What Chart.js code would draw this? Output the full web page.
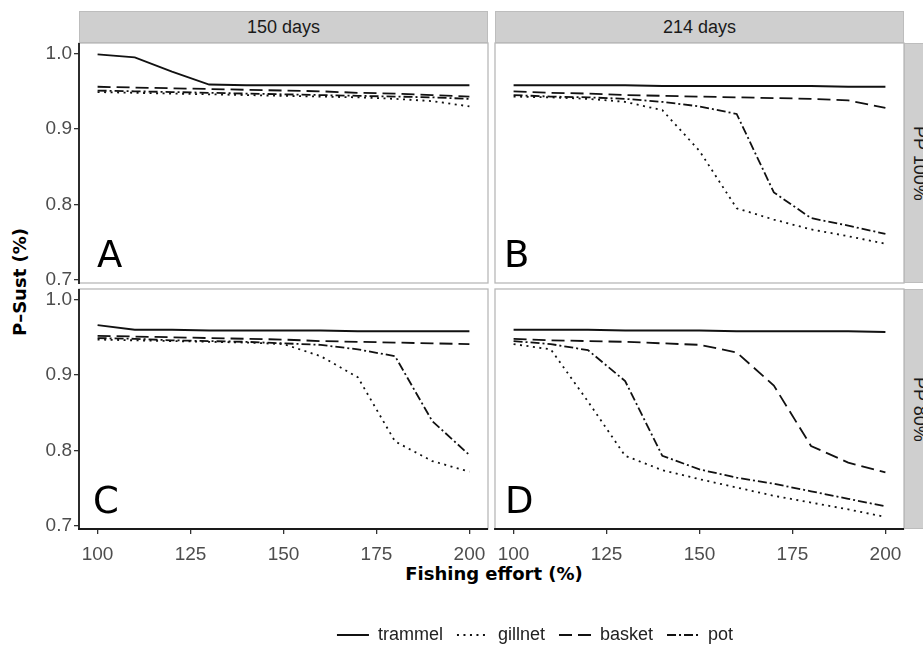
<!DOCTYPE html>
<html><head><meta charset="utf-8">
<script src="https://cdn.jsdelivr.net/npm/chart.js@4.4.1/dist/chart.umd.min.js"></script>
<style>
html,body{margin:0;padding:0;background:#fff;width:923px;height:645px;overflow:hidden;position:relative;}
canvas{position:absolute;}
.strip{position:absolute;background:#cfcfcf;box-sizing:border-box;border:1px solid #bdbdbd;color:#1a1a1a;font:18px "Liberation Sans",Arial,sans-serif;white-space:nowrap;}
.stripTop{height:32px;line-height:30px;text-align:center;}
.stripRight{width:32px;height:240px;writing-mode:vertical-rl;text-align:center;line-height:30px;}
.title{position:absolute;font:bold 18px "DejaVu Sans",sans-serif;color:#000;white-space:nowrap;text-align:center;line-height:22px;height:22px;}
</style></head><body>
<div class="strip stripTop" style="left:79px;top:11px;width:409px;">150 days</div>
<div class="strip stripTop" style="left:495px;top:11px;width:409px;">214 days</div>
<div class="strip stripRight" style="left:904px;top:43px;">PP 100%</div>
<div class="strip stripRight" style="left:904px;top:289px;">PP 80%</div>
<div class="title" style="left:-79.6px;top:271px;width:200px;transform:rotate(-90deg);">P–Sust (%)</div>
<div class="title" style="left:344px;top:562.8px;width:300px;">Fishing effort (%)</div>
<script>
// ---- data ----
const effort = [100, 110, 120, 130, 140, 150, 160, 170, 180, 190, 200];
const xTicks = [100, 125, 150, 175, 200];
const yTicks = [0.7, 0.8, 0.9, 1.0];
const gears = ['trammel', 'gillnet', 'basket', 'pot'];

// A: 150 days, PP 100%
const trammelA = [0.999, 0.995, 0.976, 0.959, 0.958, 0.958, 0.958, 0.958, 0.958, 0.958, 0.958];
const gillnetA = [0.949, 0.948, 0.947, 0.946, 0.945, 0.944, 0.943, 0.942, 0.940, 0.937, 0.930];
const basketA  = [0.956, 0.955, 0.954, 0.953, 0.952, 0.951, 0.950, 0.948, 0.947, 0.945, 0.943];
const potA     = [0.951, 0.950, 0.949, 0.948, 0.947, 0.946, 0.945, 0.944, 0.943, 0.942, 0.940];
// B: 214 days, PP 100%
const trammelB = [0.958, 0.958, 0.958, 0.958, 0.957, 0.957, 0.957, 0.957, 0.957, 0.956, 0.956];
const gillnetB = [0.943, 0.942, 0.940, 0.936, 0.925, 0.871, 0.795, 0.780, 0.767, 0.758, 0.748];
const basketB  = [0.950, 0.948, 0.947, 0.945, 0.944, 0.943, 0.942, 0.941, 0.940, 0.938, 0.928];
const potB     = [0.945, 0.943, 0.942, 0.940, 0.936, 0.930, 0.920, 0.816, 0.782, 0.772, 0.761];
// C: 150 days, PP 80%
const trammelC = [0.966, 0.960, 0.960, 0.959, 0.959, 0.959, 0.959, 0.958, 0.958, 0.958, 0.958];
const gillnetC = [0.947, 0.946, 0.945, 0.944, 0.943, 0.941, 0.925, 0.897, 0.812, 0.786, 0.772];
const basketC  = [0.952, 0.951, 0.950, 0.949, 0.948, 0.947, 0.945, 0.944, 0.943, 0.942, 0.941];
const potC     = [0.949, 0.948, 0.946, 0.945, 0.944, 0.942, 0.940, 0.934, 0.925, 0.839, 0.794];
// D: 214 days, PP 80%
const trammelD = [0.960, 0.960, 0.960, 0.959, 0.959, 0.959, 0.958, 0.958, 0.958, 0.958, 0.957];
const gillnetD = [0.941, 0.934, 0.865, 0.793, 0.774, 0.762, 0.751, 0.740, 0.731, 0.722, 0.712];
const basketD  = [0.948, 0.946, 0.945, 0.944, 0.942, 0.940, 0.930, 0.886, 0.806, 0.784, 0.771];
const potD     = [0.945, 0.941, 0.933, 0.892, 0.793, 0.775, 0.764, 0.756, 0.746, 0.736, 0.726];

// ---- styles ----
const LINE = '#111111';
const LW = 1.8;
const dashes = { trammel: [], gillnet: [2, 4.5], basket: [13, 6], pot: [9, 3, 2, 3] };

function ds(label, values) {
  return {
    label: label,
    data: effort.map((x, i) => ({ x: x, y: values[i] })),
    borderColor: LINE, backgroundColor: LINE, borderWidth: LW,
    borderDash: dashes[label], pointRadius: 0, fill: false, tension: 0
  };
}

const framePlugin = {
  id: 'frame',
  afterDatasetsDraw(chart, args, o) {
    const { left, top, right, bottom } = chart.chartArea;
    const ctx = chart.ctx;
    ctx.save();
    ctx.setLineDash([]);
    ctx.strokeStyle = '#b8b8b8'; ctx.lineWidth = 1.3;
    ctx.strokeRect(left, top, right - left, bottom - top);
    ctx.strokeStyle = '#1a1a1a'; ctx.lineWidth = 1.8;
    if (o.axisLeft) { ctx.beginPath(); ctx.moveTo(left, top); ctx.lineTo(left, bottom + 0.9); ctx.stroke(); }
    if (o.axisBottom) { ctx.beginPath(); ctx.moveTo(left - 0.9, bottom); ctx.lineTo(right, bottom); ctx.stroke(); }
    if (o.letter) {
      ctx.fillStyle = '#000'; ctx.font = '37px "DejaVu Sans"'; ctx.textBaseline = 'alphabetic'; ctx.textAlign = 'left';
      ctx.fillText(o.letter, left + o.dx, bottom - 16);
    }
    ctx.restore();
  }
};

const tickFont = { family: 'Liberation Sans', size: 19 };

function makeChart(box, pad, datasets, o) {
  const cv = document.createElement('canvas');
  cv.width = box.w; cv.height = box.h;
  cv.style.left = box.x + 'px'; cv.style.top = box.y + 'px';
  document.body.appendChild(cv);
  return new Chart(cv, {
    type: 'line',
    data: { datasets: datasets },
    options: {
      responsive: false, animation: false, devicePixelRatio: 1,
      layout: { padding: pad },
      plugins: { legend: { display: false }, tooltip: { enabled: false }, frame: o },
      scales: {
        x: {
          type: 'linear', min: 95, max: 205, display: o.showX,
          afterBuildTicks: s => { s.ticks = xTicks.map(v => ({ value: v })); },
          afterFit: s => { s.height = o.showX ? 40 : 0; },
          grid: { drawOnChartArea: false, tickLength: 5, color: '#333', lineWidth: 1.3 },
          border: { display: false },
          ticks: { padding: 9, color: '#4d4d4d', font: tickFont, maxRotation: 0, autoSkip: false, callback: v => String(v) }
        },
        y: {
          type: 'linear', min: 0.696, max: 1.014, display: o.showY,
          afterBuildTicks: s => { s.ticks = yTicks.map(v => ({ value: v })); },
          afterFit: s => { s.width = o.showY ? 79 : 0; },
          grid: { drawOnChartArea: false, tickLength: 5, color: '#333', lineWidth: 1.3 },
          border: { display: false },
          ticks: { padding: 2, color: '#4d4d4d', font: tickFont, autoSkip: false, callback: v => Number(v).toFixed(1) }
        }
      }
    },
    plugins: [framePlugin]
  });
}

makeChart({ x: 0, y: 23, w: 508, h: 280 }, { top: 20, bottom: 20, left: 0, right: 20 },
  [ds('trammel', trammelA), ds('gillnet', gillnetA), ds('basket', basketA), ds('pot', potA)],
  { showX: false, showY: true, axisLeft: true, axisBottom: false, letter: 'A', dx: 18 });
makeChart({ x: 475, y: 23, w: 449, h: 280 }, { top: 20, bottom: 20, left: 20, right: 20 },
  [ds('trammel', trammelB), ds('gillnet', gillnetB), ds('basket', basketB), ds('pot', potB)],
  { showX: false, showY: false, axisLeft: false, axisBottom: false, letter: 'B', dx: 9 });
makeChart({ x: 0, y: 269, w: 508, h: 300 }, { top: 20, bottom: 0, left: 0, right: 20 },
  [ds('trammel', trammelC), ds('gillnet', gillnetC), ds('basket', basketC), ds('pot', potC)],
  { showX: true, showY: true, axisLeft: true, axisBottom: true, letter: 'C', dx: 14 });
makeChart({ x: 475, y: 269, w: 449, h: 300 }, { top: 20, bottom: 0, left: 20, right: 20 },
  [ds('trammel', trammelD), ds('gillnet', gillnetD), ds('basket', basketD), ds('pot', potD)],
  { showX: true, showY: false, axisLeft: false, axisBottom: true, letter: 'D', dx: 10 });

// legend
(function () {
  const cv = document.createElement('canvas');
  cv.width = 870; cv.height = 120;
  cv.style.left = '100px'; cv.style.top = '612px';
  document.body.appendChild(cv);
  new Chart(cv, {
    type: 'line',
    data: { datasets: gears.map(g => ({ label: g, data: [], borderColor: LINE, backgroundColor: LINE, borderWidth: LW, borderDash: dashes[g] })) },
    options: {
      responsive: false, animation: false, devicePixelRatio: 1,
      layout: { padding: 0 },
      scales: { x: { display: false }, y: { display: false } },
      plugins: {
        tooltip: { enabled: false },
        legend: {
          display: true, position: 'top', align: 'center',
          labels: {
            usePointStyle: true, pointStyle: 'line', pointStyleWidth: 32, boxHeight: 18, padding: 14,
            color: '#222', font: { family: 'Liberation Sans', size: 18 },
            generateLabels: chart => Chart.defaults.plugins.legend.labels.generateLabels(chart).map((item, i) => Object.assign(item, {
              lineDash: dashes[gears[i]], lineWidth: LW, strokeStyle: LINE, pointStyle: 'line', lineCap: 'butt'
            }))
          }
        }
      }
    }
  });
})();
</script>
</body></html>
